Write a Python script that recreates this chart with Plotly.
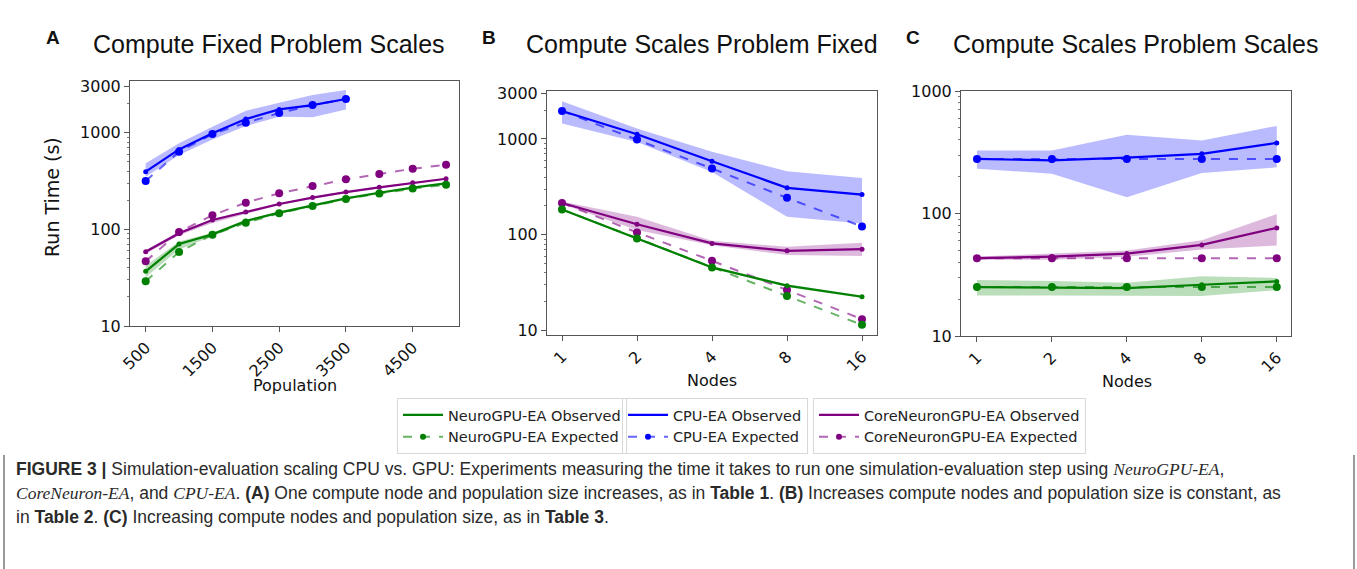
import math
import plotly.graph_objects as go

W, H = 1357, 569

# ---------------- data ----------------
population = [500, 1000, 1500, 2000, 2500, 3000, 3500, 4000, 4500, 5000]
population_cpu = [500, 1000, 1500, 2000, 2500, 3000, 3500]
nodes = [1, 2, 4, 8, 16]

A_cpu_obs = [395, 672, 985, 1384, 1743, 1933, 2230]
A_cpu_exp = [316, 636, 968, 1268, 1597, 1933, 2230]
A_cpu_hi = [482, 776, 1153, 1690, 2040, 2455, 2762]
A_cpu_lo = [351, 587, 853, 1172, 1466, 1443, 1743]
A_core_obs = [58.7, 91, 125, 151, 183, 213, 243, 272, 304, 334]
A_core_exp = [46.7, 93.8, 140, 189, 236, 281, 329, 373, 424, 466]
A_core_hi = [61, 95, 128, 155, 187, 217, 248, 277, 309, 340]
A_core_lo = [56, 87, 116, 144, 178, 208, 238, 267, 299, 328]
A_gpu_obs = [36.8, 70.5, 88.8, 122, 149, 177, 209, 239, 270, 299]
A_gpu_exp = [29, 58.3, 88, 117, 146.5, 174, 206, 235, 264, 290]
A_gpu_hi = [42, 75, 92, 126, 153, 181, 214, 244, 276, 306]
A_gpu_lo = [32, 62, 85, 117, 145, 172, 204, 234, 264, 292]

B_cpu_obs = [1958, 1119, 585, 309, 263]
B_cpu_exp = [1958, 985, 491, 243, 122]
B_cpu_hi = [2466, 1282, 733, 460, 392]
B_cpu_lo = [1445, 931, 453, 154, 131]
B_core_obs = [215, 129, 81.3, 68, 70.9]
B_core_exp = [215, 106, 53.6, 26.5, 13.2]
B_core_hi = [222, 154, 86.6, 75, 82.5]
B_core_lo = [208, 112, 78, 61.4, 60]
B_gpu_obs = [184, 91.6, 45.7, 29.5, 22.6]
B_gpu_exp = [184, 91.6, 45.7, 23, 11.5]
B_gpu_hi = [188, 94, 47, 30.5, 23.3]
B_gpu_lo = [180, 89, 44.5, 28.5, 21.9]

C_cpu_obs = [279, 271, 286, 307, 377]
C_cpu_exp = [279, 279, 279, 279, 279]
C_cpu_hi = [327, 327, 439, 394, 519]
C_cpu_lo = [232, 211, 136, 214, 238]
C_core_obs = [43.2, 44.5, 47.1, 55.4, 76.3]
C_core_exp = [43.2, 43.2, 43.2, 43.2, 43.2]
C_core_hi = [44.5, 46.8, 49.8, 60.5, 99]
C_core_lo = [42, 42, 44.3, 50.8, 54.7]
C_gpu_obs = [25.1, 24.9, 24.6, 26.2, 27.9]
C_gpu_exp = [25.1, 25.1, 25.1, 25.1, 25.1]
C_gpu_hi = [28.6, 28.1, 27.2, 30.8, 29.8]
C_gpu_lo = [21.4, 21.4, 21.4, 21.2, 23.7]

series_names = {
    "gpu": ("NeuroGPU-EA Observed", "NeuroGPU-EA Expected"),
    "cpu": ("CPU-EA Observed", "CPU-EA Expected"),
    "core": ("CoreNeuronGPU-EA Observed", "CoreNeuronGPU-EA Expected"),
}
panel_titles = ["Compute Fixed Problem Scales", "Compute Scales Problem Fixed",
                "Compute Scales Problem Scales"]
panel_letters = ["A", "B", "C"]

# ---------------- styles ----------------
rgb = {"gpu": (0, 128, 0), "cpu": (0, 0, 255), "core": (128, 0, 128)}
legend_of = {"gpu": "legend", "cpu": "legend2", "core": "legend3"}


def col(k, a=1.0):
    r, g, b = rgb[k]
    return f"rgba({r},{g},{b},{a})"


fig = go.Figure()


def add_series(k, x, obs, exp, hi, lo, xa, ya):
    fig.add_trace(go.Scatter(
        x=list(x) + list(x)[::-1], y=list(hi) + list(lo)[::-1],
        fill="toself", fillcolor=col(k, 0.27), line=dict(width=0),
        mode="lines", hoverinfo="skip", showlegend=False, xaxis=xa, yaxis=ya))
    fig.add_trace(go.Scatter(
        x=x, y=exp, mode="lines+markers", name=series_names[k][1],
        line=dict(color=col(k, 0.6), width=2, dash="dash"),
        marker=dict(color=col(k), size=8),
        showlegend=False, xaxis=xa, yaxis=ya))
    fig.add_trace(go.Scatter(
        x=x, y=obs, mode="lines+markers", name=series_names[k][0],
        line=dict(color=col(k), width=2.2),
        marker=dict(color=col(k), size=5),
        showlegend=False, xaxis=xa, yaxis=ya))


add_series("cpu", population_cpu, A_cpu_obs, A_cpu_exp, A_cpu_hi, A_cpu_lo, "x", "y")
add_series("core", population, A_core_obs, A_core_exp, A_core_hi, A_core_lo, "x", "y")
add_series("gpu", population, A_gpu_obs, A_gpu_exp, A_gpu_hi, A_gpu_lo, "x", "y")

add_series("cpu", nodes, B_cpu_obs, B_cpu_exp, B_cpu_hi, B_cpu_lo, "x2", "y2")
add_series("core", nodes, B_core_obs, B_core_exp, B_core_hi, B_core_lo, "x2", "y2")
add_series("gpu", nodes, B_gpu_obs, B_gpu_exp, B_gpu_hi, B_gpu_lo, "x2", "y2")

add_series("cpu", nodes, C_cpu_obs, C_cpu_exp, C_cpu_hi, C_cpu_lo, "x3", "y3")
add_series("core", nodes, C_core_obs, C_core_exp, C_core_hi, C_core_lo, "x3", "y3")
add_series("gpu", nodes, C_gpu_obs, C_gpu_exp, C_gpu_hi, C_gpu_lo, "x3", "y3")

# legend entries (legend-only samples, matching the reference's key styles)
for k in ["gpu", "cpu", "core"]:
    fig.add_trace(go.Scatter(
        x=[None], y=[None], mode="lines", name=series_names[k][0],
        line=dict(color=col(k), width=2.2), legend=legend_of[k], legendrank=1,
        hoverinfo="skip"))
    fig.add_trace(go.Scatter(
        x=[None], y=[None], mode="lines+markers", name=series_names[k][1],
        line=dict(color=col(k, 0.6), width=2, dash="dash"),
        marker=dict(color=col(k), size=6), legend=legend_of[k], legendrank=2,
        hoverinfo="skip"))

# ---------------- axes ----------------
tickfont = dict(family="DejaVu Sans", size=16, color="#111")
frame = dict(showline=True, linecolor="#555", linewidth=1, mirror=True,
             ticks="outside", ticklen=5, tickcolor="#555", showgrid=False,
             zeroline=False, tickfont=tickfont, automargin=False)
minor_vals = [20, 30, 40, 50, 60, 70, 80, 90, 200, 300, 400, 500, 600, 700, 800, 900, 2000]
minor = dict(tickvals=minor_vals, ticks="outside", ticklen=2.5, tickcolor="#777", showgrid=False)


def px_x(a, b):
    return [a / W, b / W]


def px_y(top, bottom):
    return [1 - bottom / H, 1 - top / H]


l2 = math.log10(2)

fig.update_layout(
    xaxis=dict(domain=px_x(130, 459), anchor="y", range=[265, 5194],
               tickvals=[500, 1500, 2500, 3500, 4500], tickangle=-45, **frame),
    yaxis=dict(domain=px_y(81, 326), anchor="x", type="log", range=[1, 3.535],
               tickvals=[10, 100, 1000, 3000], minor=minor, **frame),
    xaxis2=dict(domain=px_x(547, 877), anchor="y2", type="log",
                range=[-0.2 * l2, 4.2 * l2], tickvals=nodes,
                ticktext=[str(n) for n in nodes], tickangle=-45, **frame),
    yaxis2=dict(domain=px_y(91, 335), anchor="x2", type="log", range=[0.955, 3.5],
                tickvals=[10, 100, 1000, 3000], minor=minor, **frame),
    xaxis3=dict(domain=px_x(961, 1291), anchor="y3", type="log",
                range=[-0.213 * l2, 4.19 * l2], tickvals=nodes,
                ticktext=[str(n) for n in nodes], tickangle=-45, **frame),
    yaxis3=dict(domain=px_y(91, 336), anchor="x3", type="log", range=[1, 3],
                tickvals=[10, 100, 1000], minor=minor, **frame),
)

# ---------------- legends ----------------
leg_common = dict(font=dict(family="DejaVu Sans", size=14.5, color="#222"),
                  bgcolor="rgba(255,255,255,0)", bordercolor="#d8d8d8", borderwidth=1,
                  xanchor="left", yanchor="top", itemwidth=40, traceorder="normal")
fig.update_layout(
    legend=dict(x=397 / W, y=1 - 398 / H, **leg_common),
    legend2=dict(x=622 / W, y=1 - 398 / H, **leg_common),
    legend3=dict(x=813 / W, y=1 - 398 / H, **leg_common),
)

# ---------------- texts ----------------
ann = []
title_x = [269, 702, 1135]
letter_x = [53, 489, 913]
for t, tx, lt, lx in zip(panel_titles, title_x, panel_letters, letter_x):
    ann.append(dict(text=t, x=tx / W, y=1 - 44 / H, xref="paper", yref="paper",
                    xanchor="center", yanchor="middle", showarrow=False,
                    font=dict(family="Liberation Sans", size=25, color="#111")))
    ann.append(dict(text=f"<b>{lt}</b>", x=lx / W, y=1 - 38 / H, xref="paper", yref="paper",
                    xanchor="center", yanchor="middle", showarrow=False,
                    font=dict(family="Liberation Sans", size=19, color="#111")))

ann.append(dict(text="Run Time (s)", x=52 / W, y=1 - 197 / H, xref="paper", yref="paper",
                textangle=-90, xanchor="center", yanchor="middle", showarrow=False,
                font=dict(family="DejaVu Sans", size=19, color="#111")))
for t, x, y in [("Population", 295, 385), ("Nodes", 712, 380), ("Nodes", 1127, 381)]:
    ann.append(dict(text=t, x=x / W, y=1 - y / H, xref="paper", yref="paper",
                    xanchor="center", yanchor="middle", showarrow=False,
                    font=dict(family="DejaVu Sans", size=16, color="#111")))


def it(s):
    return f"<i><span style=\"font-family:'Liberation Serif'\">{s}</span></i>"


cap_lines = [
    "<b>FIGURE 3 |</b> Simulation-evaluation scaling CPU vs. GPU: Experiments measuring the time it "
    "takes to run one simulation-evaluation step using " + it("NeuroGPU-EA") + ",",
    it("CoreNeuron-EA") + ", and " + it("CPU-EA") + ". <b>(A)</b> One compute node and population "
    "size increases, as in <b>Table 1</b>. <b>(B)</b> Increases compute nodes and population size is constant, as",
    "in <b>Table 2</b>. <b>(C)</b> Increasing compute nodes and population size, as in <b>Table 3</b>.",
]
for i, line in enumerate(cap_lines):
    ann.append(dict(text=line, x=14 / W, y=1 - (469 + 24 * i) / H, xref="paper", yref="paper",
                    xanchor="left", yanchor="middle", showarrow=False,
                    font=dict(family="Liberation Sans", size=17.5, color="#2a2a2a")))

fig.update_layout(annotations=ann)

fig.update_layout(shapes=[
    dict(type="line", xref="paper", yref="paper", x0=4 / W, x1=4 / W, y0=0, y1=1 - 455 / H,
         line=dict(color="#9a9a9a", width=2)),
    dict(type="line", xref="paper", yref="paper", x0=1354 / W, x1=1354 / W, y0=0, y1=1 - 455 / H,
         line=dict(color="#9a9a9a", width=2)),
])

fig.update_layout(width=W, height=H, margin=dict(l=0, r=0, t=0, b=0, autoexpand=False),
                  paper_bgcolor="white", plot_bgcolor="white")

fig.write_html("out.html", config={"displayModeBar": False},
               post_script="document.body.style.margin='0';")
